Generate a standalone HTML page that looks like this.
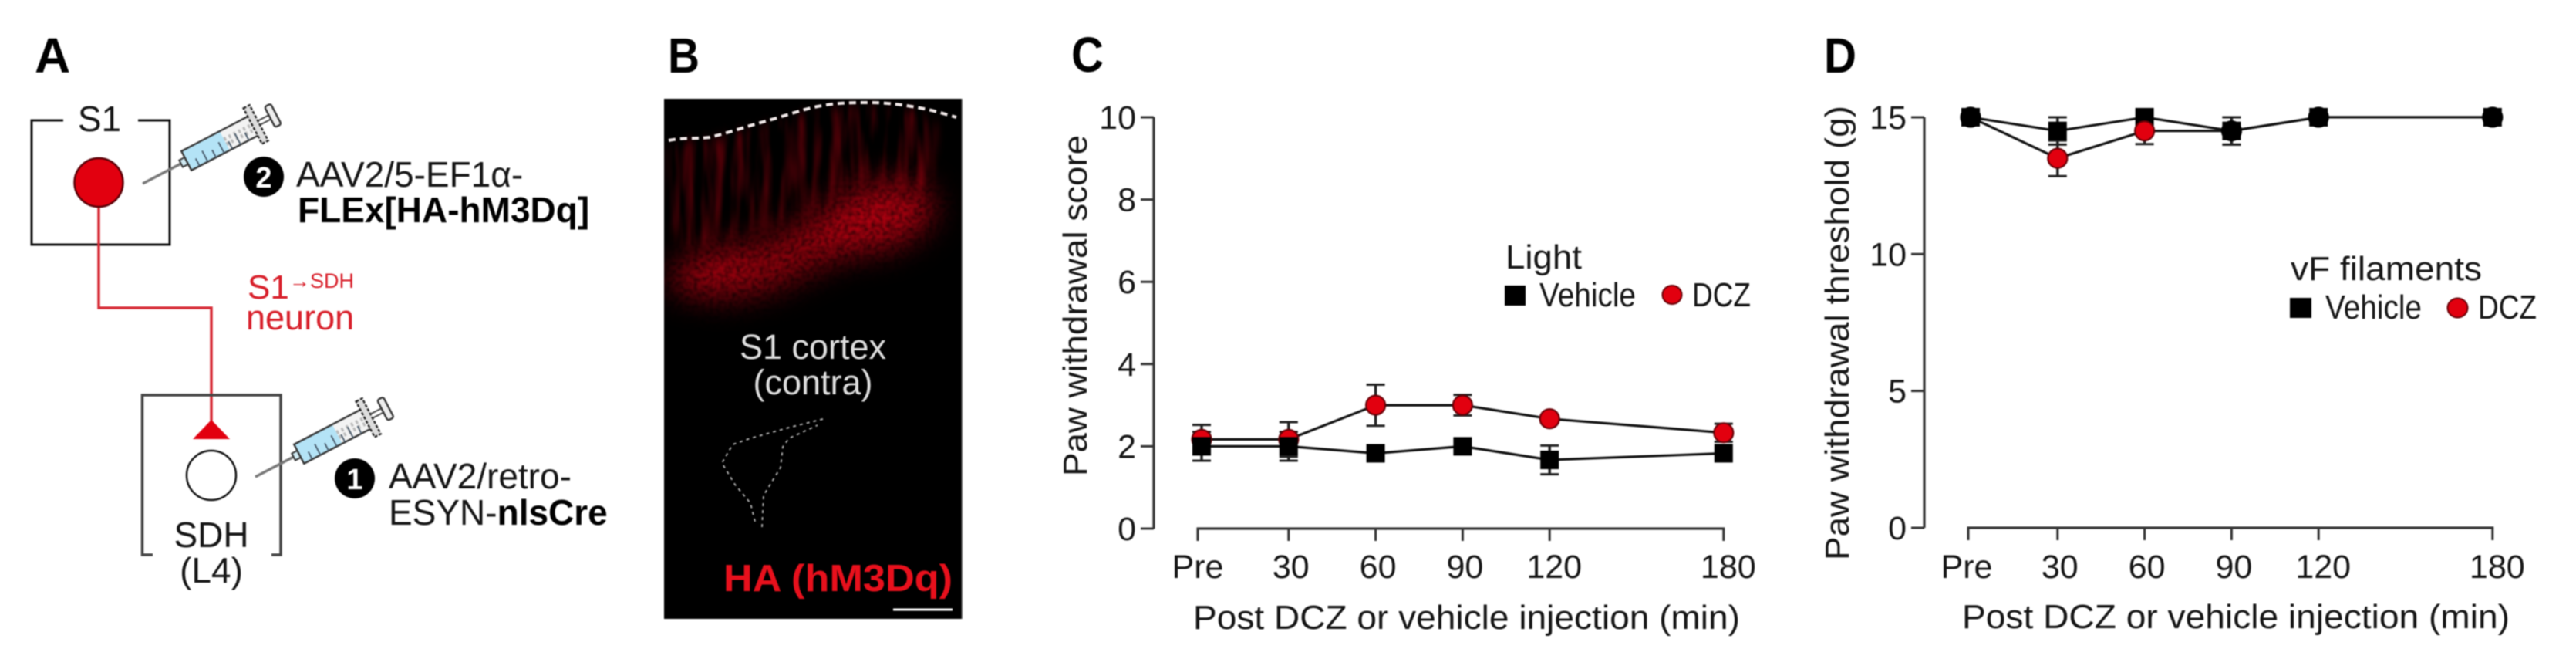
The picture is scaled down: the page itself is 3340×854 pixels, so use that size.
<!DOCTYPE html>
<html lang="en">
<head>
<meta charset="utf-8">
<title>Paw withdrawal figure</title>
<style>
  html, body { margin: 0; padding: 0; background: #fff; width: 3340px; height: 854px; overflow: hidden; }
  #figure { display: block; filter: blur(0.7px); font-family: "Liberation Sans", sans-serif; }
  text { font-family: "Liberation Sans", "DejaVu Sans", sans-serif; fill: #151515; }
  .letter { font-size: 64px; font-weight: 700; fill: #000; }
  .a-txt { font-size: 46px; }
  .tick { font-size: 43px; }
  .title { font-size: 44px; }
</style>
</head>
<body>
<svg id="figure" xmlns="http://www.w3.org/2000/svg" width="3340" height="854" viewBox="0 0 3340 854">
  <defs>
    <filter id="grain" x="-30%" y="-30%" width="160%" height="160%" color-interpolation-filters="sRGB">
      <feGaussianBlur in="SourceGraphic" stdDeviation="20" result="soft"/>
      <feTurbulence type="fractalNoise" baseFrequency="0.2" numOctaves="2" seed="5" result="noise"/>
      <feColorMatrix in="noise" type="matrix" values="0 0 0 0 0  0 0 0 0 0  0 0 0 0 0  1.5 0 0 0 0.05" result="mask"/>
      <feComposite in="soft" in2="mask" operator="in"/>
      <feGaussianBlur stdDeviation="1"/>
    </filter>
    <filter id="streaks" x="-10%" y="-10%" width="120%" height="120%" color-interpolation-filters="sRGB">
      <feGaussianBlur in="SourceGraphic" stdDeviation="7" result="soft"/>
      <feTurbulence type="fractalNoise" baseFrequency="0.08 0.008" numOctaves="3" seed="9" result="noise"/>
      <feColorMatrix in="noise" type="matrix" values="0 0 0 0 0  0 0 0 0 0  0 0 0 0 0  2.2 0 0 0 -0.85" result="mask"/>
      <feComposite in="soft" in2="mask" operator="in"/>
      <feGaussianBlur stdDeviation="1.2"/>
    </filter>
    <g id="syringe">
      <line x1="0" y1="0" x2="64" y2="0" stroke="#777" stroke-width="3.5"/>
      <rect x="56" y="-5" width="8" height="10" fill="#cfe9f2" stroke="#333" stroke-width="2"/>
      <rect x="64" y="-14" width="56" height="28" fill="#b4e3f6"/>
      <rect x="120" y="-14" width="45" height="28" fill="#f3f3f3"/>
      <path d="M120 -2 L158 -2 M120 5 L158 5" stroke="#bbb" stroke-width="5" stroke-dasharray="3 4" fill="none"/>
      <rect x="64" y="-14" width="101" height="28" fill="none" stroke="#333" stroke-width="2.4"/>
      <path d="M76 3V14M88 -2V14M100 3V14M112 -2V14M124 3V14M136 -2V14M148 3V14" stroke="#456" stroke-width="1.8" fill="none"/>
      <rect x="161" y="-26" width="9" height="52" fill="#ddd" stroke="#222" stroke-width="2.4" stroke-dasharray="4 2"/>
      <path d="M170 -3H187M170 3H187" stroke="#444" stroke-width="2"/>
      <rect x="186" y="-15" width="9" height="30" rx="3" fill="#eee" stroke="#333" stroke-width="2.4"/>
    </g>
  </defs>

  <!-- PANEL A -->
  <g>
    <text class="letter" x="45" y="94">A</text>
    <path d="M82 156H41V317H220V156H179" fill="none" stroke="#111" stroke-width="3"/>
    <text class="a-txt" x="129" y="170" text-anchor="middle">S1</text>
    <path d="M128 262V399H274V546" fill="none" stroke="#d62a35" stroke-width="3.5"/>
    <circle cx="128" cy="236.5" r="31.5" fill="#e2000f" stroke="#5a0006" stroke-width="2.5"/>
    <use href="#syringe" transform="translate(185 238) rotate(-27.6)"/>
    <circle cx="342" cy="229" r="26" fill="#000"/>
    <text x="342" y="243" text-anchor="middle" font-size="38" font-weight="700" style="fill:#fff">2</text>
    <text class="a-txt" x="384" y="242">AAV2/5-EF1α-</text>
    <text class="a-txt" x="386" y="288" font-weight="700" style="fill:#000">FLEx[HA-hM3Dq]</text>
    <text x="321" y="387" font-size="44" style="fill:#d81f2a">S1</text>
    <text x="375" y="373" font-size="27" textLength="84" lengthAdjust="spacingAndGlyphs" style="fill:#d81f2a">→SDH</text>
    <text x="319" y="427" font-size="45" style="fill:#d81f2a">neuron</text>
    <path d="M198 719H184.500V512H364V719H352" fill="none" stroke="#444" stroke-width="3.5"/>
    <path d="M274 544L298 569H250Z" fill="#e2000f"/>
    <circle cx="274" cy="616" r="32" fill="#fff" stroke="#111" stroke-width="2.5"/>
    <text class="a-txt" x="274" y="709" text-anchor="middle">SDH</text>
    <text class="a-txt" x="274" y="755" text-anchor="middle">(L4)</text>
    <use href="#syringe" transform="translate(331 618) rotate(-27.6)"/>
    <circle cx="460" cy="620" r="26" fill="#000"/>
    <text x="460" y="634" text-anchor="middle" font-size="38" font-weight="700" style="fill:#fff">1</text>
    <text class="a-txt" x="504" y="633">AAV2/retro-</text>
    <text class="a-txt" x="504" y="680">ESYN-<tspan font-weight="700" style="fill:#000">nlsCre</tspan></text>
  </g>

  <!-- PANEL B -->
  <g>
    <text class="letter" x="866" y="94" textLength="41" lengthAdjust="spacingAndGlyphs">B</text>
    <rect x="861" y="128" width="386" height="674" fill="#000"/>
    <line x1="1247.500" y1="128" x2="1247.500" y2="802" stroke="#999" stroke-width="1.500"/>
    <clipPath id="photoClip"><rect x="861" y="128" width="386" height="674"/></clipPath>
    <g clip-path="url(#photoClip)">
      <path d="M868 186 L920 182 L993 161 L1060 142 L1127 137 L1193 144 L1215 165 L1205 250 L1120 235 L1050 280 L960 310 L885 325 L868 290Z" fill="#5c0008" filter="url(#streaks)"/>
      <g filter="url(#grain)">
        <ellipse cx="960" cy="350" rx="92" ry="32" transform="rotate(-8 960 350)" fill="#a8000e"/>
        <ellipse cx="1050" cy="318" rx="95" ry="32" transform="rotate(-22 1050 318)" fill="#90000b"/>
        <ellipse cx="1135" cy="282" rx="78" ry="42" transform="rotate(-15 1135 282)" fill="#b0000f"/>
      </g>
    </g>
    <path d="M867 182 C885 178 905 180 920 178 C945 172 970 163 993 157 C1015 151 1040 142 1060 138 C1085 133 1105 133 1127 133 C1150 133 1172 136 1193 140 C1210 143 1226 148 1240 152" fill="none" stroke="#f0e8e8" stroke-width="4" stroke-dasharray="9 6"/>
    <text x="1054" y="465" font-size="45" text-anchor="middle" style="fill:#ddd">S1 cortex</text>
    <text x="1054" y="511" font-size="45" text-anchor="middle" style="fill:#ddd">(contra)</text>
    <path d="M1067 543L1023 554L973 568L950 576L936 600L953 628L973 652L980 680M988 683L990 642L1012 606L1015 579L1023 568L1060 551" fill="none" stroke="#aaa" stroke-width="2" stroke-dasharray="4 5"/>
    <text x="938" y="766" font-size="49" font-weight="700" textLength="297" lengthAdjust="spacingAndGlyphs" style="fill:#e8101c">HA (hM3Dq)</text>
    <rect x="1158" y="788.500" width="77" height="3" fill="#fff"/>
  </g>

  <!-- PANEL C static -->
  <g>
    <text class="letter" x="1389" y="93" textLength="42" lengthAdjust="spacingAndGlyphs">C</text>
    <text class="title" transform="translate(1409 617) rotate(-90)" textLength="442" lengthAdjust="spacingAndGlyphs">Paw withdrawal score</text>
    <text class="title" x="1547" y="815" textLength="709" lengthAdjust="spacingAndGlyphs">Post DCZ or vehicle injection (min)</text>
    <g id="chartC"></g>
    <g>
      <text class="title" x="1952" y="348" textLength="99" lengthAdjust="spacingAndGlyphs">Light</text>
      <rect x="1951" y="370" width="27" height="26" fill="#000"/>
      <text class="title" x="1996" y="397" textLength="125" lengthAdjust="spacingAndGlyphs">Vehicle</text>
      <ellipse cx="2168" cy="382" rx="12.500" ry="12" fill="#e2000f" stroke="#6a0006" stroke-width="2"/>
      <text class="title" x="2194" y="397" textLength="76" lengthAdjust="spacingAndGlyphs">DCZ</text>
    </g>
  </g>

  <!-- PANEL D static -->
  <g>
    <text class="letter" x="2365" y="94" textLength="42" lengthAdjust="spacingAndGlyphs">D</text>
    <text class="title" transform="translate(2397 726) rotate(-90)" textLength="589" lengthAdjust="spacingAndGlyphs">Paw withdrawal threshold (g)</text>
    <text class="title" x="2544" y="814" textLength="710" lengthAdjust="spacingAndGlyphs">Post DCZ or vehicle injection (min)</text>
    <g id="chartD"></g>
    <g>
      <text class="title" x="2970" y="363" textLength="248" lengthAdjust="spacingAndGlyphs">vF filaments</text>
      <rect x="2969" y="386" width="28" height="26" fill="#000"/>
      <text class="title" x="3015" y="413" textLength="125" lengthAdjust="spacingAndGlyphs">Vehicle</text>
      <ellipse cx="3186.500" cy="399" rx="13" ry="12.500" fill="#e2000f" stroke="#6a0006" stroke-width="2"/>
      <text class="title" x="3213" y="413" textLength="76" lengthAdjust="spacingAndGlyphs">DCZ</text>
    </g>
  </g>
</svg>

<script>
// Shared categories
const timeMinutes = [0, 30, 60, 90, 120, 180];
const timeLabels = ['Pre', '30', '60', '90', '120', '180'];

// Chart C: light paw withdrawal score
const scoreTicks = [0, 2, 4, 6, 8, 10];
const scoreVehicle = [2, 2, 1.83, 2, 1.67, 1.83];
const scoreVehicleErr = [0.35, 0.35, 0, 0, 0.35, 0];
const scoreDcz = [2.17, 2.17, 3, 3, 2.67, 2.33];
const scoreDczErr = [0.35, 0.42, 0.5, 0.25, 0, 0.22];

// Chart D: von Frey paw withdrawal threshold
const thresholdTicks = [0, 5, 10, 15];
const thresholdVehicle = [15, 14.5, 15, 14.5, 15, 15];
const thresholdVehicleErr = [0, 0.5, 0, 0.5, 0, 0];
const thresholdDcz = [15, 13.5, 14.5, 14.5, 15, 15];
const thresholdDczErr = [0, 0.65, 0.48, 0.5, 0, 0];

const NS = 'http://www.w3.org/2000/svg';
function make(parent, tag, attrs, text) {
  const node = document.createElementNS(NS, tag);
  for (const key in attrs) node.setAttribute(key, attrs[key]);
  if (text !== undefined) node.textContent = text;
  parent.appendChild(node);
  return node;
}

function labelShift(label) {
  if (label === 'Pre') return -5;
  return label.length === 3 ? 6 : 3;
}

function drawAxes(root, xScale, yScale, yTicks, axis) {
  const yLine = make(root, 'line', { x1: axis.yAxisX, x2: axis.yAxisX, y1: yScale(yTicks[yTicks.length - 1]), y2: yScale(0), stroke: '#333', 'stroke-width': 3.2 });
  
  
  yTicks.forEach(function (v) {
    const t = make(root, 'line', { x1: axis.yAxisX - 17, x2: axis.yAxisX, y1: yScale(v), y2: yScale(v), stroke: '#333', 'stroke-width': 3 });
    
    
    const lab = make(root, 'text', { class: 'tick', x: axis.yAxisX - 23, y: yScale(v) + 15, 'text-anchor': 'end' }, String(v));
    
    
  });
  const first = xScale(timeMinutes[0]) + axis.preTickShift;
  const last = xScale(timeMinutes[timeMinutes.length - 1]);
  const xLine = make(root, 'line', { x1: first - 1.5, x2: last + 1.5, y1: axis.xAxisY, y2: axis.xAxisY, stroke: '#333', 'stroke-width': 3.2 });
  
  
  timeMinutes.forEach(function (m, i) {
    const x = xScale(m) + (i === 0 ? axis.preTickShift : 0);
    const t = make(root, 'line', { x1: x, x2: x, y1: axis.xAxisY, y2: axis.xAxisY + 16, stroke: '#333', 'stroke-width': 3 });
    
    
    const lab = make(root, 'text', { class: 'tick', x: xScale(m) + labelShift(timeLabels[i]), y: 749, 'text-anchor': 'middle' }, timeLabels[i]);
    
    
  });
}

function drawLine(root, xScale, yScale, values) {
  const pts = values.map(function (v, i) { return xScale(timeMinutes[i]) + ',' + yScale(v); }).join(' ');
  const line = make(root, 'polyline', { points: pts, fill: 'none', stroke: '#111', 'stroke-width': 3.2 });
  
  
}

function drawErrors(root, xScale, yScale, values, errors) {
  values.forEach(function (v, i) {
    if (!errors[i]) return;
    const x = xScale(timeMinutes[i]);
    const hi = yScale(v + errors[i]);
    const lo = yScale(v - errors[i]);
    const stem = make(root, 'line', { x1: x, x2: x, y1: hi, y2: lo, stroke: '#222', 'stroke-width': 3.5 });
    
    
    const capTop = make(root, 'line', { x1: x - 12, x2: x + 12, y1: hi, y2: hi, stroke: '#222', 'stroke-width': 3 });
    
    
    const capBottom = make(root, 'line', { x1: x - 12, x2: x + 12, y1: lo, y2: lo, stroke: '#222', 'stroke-width': 3 });
    
    
  });
}

function drawSquares(root, xScale, yScale, values) {
  values.forEach(function (v, i) {
    const s = make(root, 'rect', { x: xScale(timeMinutes[i]) - 12, y: yScale(v) - 12, width: 24, height: 24, fill: '#000' });
    
    
  });
}

function drawCircles(root, xScale, yScale, values, others, hideEqual) {
  values.forEach(function (v, i) {
    const same = hideEqual && v === others[i];
    const c = make(root, 'circle', { cx: xScale(timeMinutes[i]), cy: yScale(v), r: 12.5, fill: same ? '#000' : '#e2000f', stroke: same ? '#000' : '#6a0006', 'stroke-width': 2.2 });
    
    
  });
}

// Chart C
(function () {
  const root = document.getElementById('chartC');
  const xScale = function (m) { return 1558 + 3.76 * m; };
  const yScale = function (v) { return 685 - 53.3 * v; };
  drawAxes(root, xScale, yScale, scoreTicks, { yAxisX: 1496, xAxisY: 685, preTickShift: -5 });
  drawLine(root, xScale, yScale, scoreDcz);
  drawLine(root, xScale, yScale, scoreVehicle);
  drawErrors(root, xScale, yScale, scoreDcz, scoreDczErr);
  drawErrors(root, xScale, yScale, scoreVehicle, scoreVehicleErr);
  drawCircles(root, xScale, yScale, scoreDcz, scoreVehicle, false);
  drawSquares(root, xScale, yScale, scoreVehicle);
})();

// Chart D
(function () {
  const root = document.getElementById('chartD');
  const xScale = function (m) { return 2555 + 3.76 * m; };
  const yScale = function (v) { return 684 - 35.47 * v; };
  drawAxes(root, xScale, yScale, thresholdTicks, { yAxisX: 2495, xAxisY: 684, preTickShift: -3 });
  drawLine(root, xScale, yScale, thresholdDcz);
  drawLine(root, xScale, yScale, thresholdVehicle);
  drawErrors(root, xScale, yScale, thresholdDcz, thresholdDczErr);
  drawErrors(root, xScale, yScale, thresholdVehicle, thresholdVehicleErr);
  drawSquares(root, xScale, yScale, thresholdVehicle);
  drawCircles(root, xScale, yScale, thresholdDcz, thresholdVehicle, true);
})();
</script>
</body>
</html>
